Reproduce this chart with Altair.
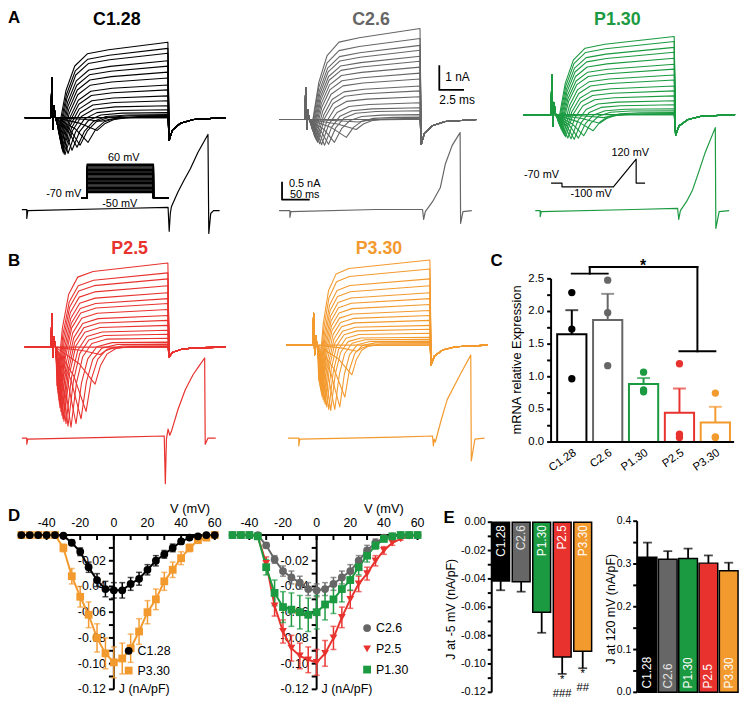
import altair as alt
import pandas as pd

FONT = "Liberation Sans"
BLACK = "#000000"
GREY = "#666666"
GREEN = "#1b9a41"
RED = "#e8322e"
ORANGE = "#f39a2f"

CATS = ["C1.28", "C2.6", "P1.30", "P2.5", "P3.30"]
CAT_COLORS = [BLACK, GREY, GREEN, RED, ORANGE]
E_LABEL_COLORS = ["#ffffff", "#e4e4e4", "#ffffff", "#ffffff", "#ffffff"]

# ---------------- A / B : current families (nA), one value per sweep ----------------
C128_PEAK = [0, -0.15, -0.52, -1.0, -1.12, -1.2, -1.32, -1.45, -1.5, -1.46, -1.4, -1.33, -1.25, -1.15, -1.05, -0.95, -0.85, -0.75, -0.65, -0.55]
C128_TPK = [6.0, 7.6, 7.2, 6.3, 5.5, 5.2, 4.7, 4.3, 4.0, 3.9, 3.8, 3.75, 3.7, 3.65, 3.6, 3.55, 3.5, 3.45, 3.4, 3.35]
C128_SS = [0, 0, 0.02, 0.05, 0.08, 0.12, 0.2, 0.32, 0.48, 0.68, 0.88, 1.12, 1.32, 1.6, 1.84, 2.08, 2.3, 2.6, 2.8, 3.05]

C26_PEAK = [0, -0.1, -0.4, -0.72, -0.92, -1.0, -1.04, -1.02, -0.98, -0.92, -0.85, -0.78, -0.7, -0.62, -0.55, -0.5, -0.45, -0.4, -0.35, -0.3]
C26_TPK = [6.0, 8.0, 7.8, 6.8, 5.6, 5.0, 4.6, 4.3, 4.1, 3.9, 3.8, 3.7, 3.6, 3.55, 3.5, 3.45, 3.4, 3.35, 3.3, 3.3]
C26_SS = [0, 0, 0.05, 0.1, 0.2, 0.36, 0.48, 0.68, 0.92, 1.16, 1.36, 1.64, 1.88, 2.12, 2.36, 2.56, 2.8, 3.0, 3.28, 3.68]

P130_PEAK = [0, -0.12, -0.35, -0.65, -0.85, -0.95, -1.0, -0.98, -0.95, -0.9, -0.85, -0.78, -0.7, -0.62, -0.55, -0.5, -0.45, -0.4, -0.35, -0.3]
P130_TPK = [6.0, 7.6, 7.2, 6.6, 5.7, 5.2, 4.8, 4.5, 4.2, 4.0, 3.9, 3.8, 3.7, 3.6, 3.55, 3.5, 3.45, 3.4, 3.35, 3.3]
P130_SS = [0, 0, 0.04, 0.08, 0.16, 0.24, 0.4, 0.56, 0.76, 0.96, 1.16, 1.4, 1.6, 1.84, 2.04, 2.28, 2.52, 2.72, 2.96, 3.16]

P25_PEAK = [0, -0.3, -1.5, -2.6, -2.9, -3.1, -3.24, -3.2, -3.1, -3.0, -2.9, -2.75, -2.6, -2.45, -2.3, -2.15, -2.0, -1.85, -1.7, -1.55]
P25_TPK = [6.0, 7.5, 7.0, 6.1, 5.6, 5.1, 4.6, 4.3, 4.1, 3.9, 3.8, 3.7, 3.6, 3.5, 3.45, 3.4, 3.35, 3.3, 3.25, 3.2]
P25_SS = [0, 0, 0.02, 0.05, 0.12, 0.2, 0.36, 0.52, 0.68, 0.88, 1.08, 1.28, 1.52, 1.76, 1.96, 2.2, 2.48, 2.76, 3.0, 3.4]

P330_PEAK = [0, -0.25, -1.2, -2.1, -2.5, -2.6, -2.64, -2.6, -2.5, -2.4, -2.3, -2.2, -2.1, -2.0, -1.9, -1.8, -1.7, -1.6, -1.5, -1.4]
P330_TPK = [6.0, 7.0, 6.5, 5.8, 5.3, 4.8, 4.4, 4.2, 4.0, 3.85, 3.75, 3.65, 3.55, 3.5, 3.45, 3.4, 3.35, 3.3, 3.25, 3.2]
P330_SS = [0, 0, 0.05, 0.1, 0.16, 0.24, 0.32, 0.48, 0.64, 0.8, 1.0, 1.2, 1.4, 1.64, 1.88, 2.12, 2.4, 2.68, 3.08, 3.44]

# artifact height, tail minimum (nA) and relative rise time per family
FAMILY_ART = [1.6, 1.3, 1.6, 1.36, 1.3]
FAMILY_TAIL = [-0.92, -1.0, -0.84, -0.4, -0.8]
FAMILY_RISE = [1.25, 1.2, 1.1, 0.9, 0.75]

# sweep shape (ms / fractions)
T_ON, T_OFF, T_END = 3.05, 14.3, 20.0
ART_T = [2.6, 2.7, 2.8, 2.9]
ART_SHAPE = [0.0, 1.0, -0.3, 0.3]
RISE_DT = [0.6, 1.3, 2.3, 4.0]
RISE_FRAC = [0.5, 0.8, 0.95, 1.0]
PLATEAU_EARLY = 0.9
TAIL_DT = [0.08, 0.4, 1.2, 2.5]
TAIL_SHAPE = [1.0, 0.55, 0.25, 0.08]

# ---------------- ramp responses (ms, nA) ----------------
C128_AP_T = [0, 8.9, 8.9, 10.7, 175, 264, 266, 268, 270, 282, 293, 304, 318, 336, 337.5, 341, 346, 357]
C128_AP_V = [0, 0, -0.25, -0.03, 0.03, 0.06, -0.61, -0.11, 0.08, 0.5, 0.83, 1.14, 1.61, 2.11, -0.67, -0.11, -0.03, -0.03]
C26_AP_T = [0, 19.6, 19.6, 21.4, 175, 259, 261, 264, 277, 291, 300, 312.5, 326.8, 327.7, 332, 348]
C26_AP_V = [0, 0, -0.19, -0.03, 0.03, 0.03, -0.25, -0.03, 0.25, 0.64, 1.3, 1.83, 2.19, -0.36, -0.03, 0]
P130_AP_T = [0, 8.9, 8.9, 10.7, 177, 257, 259, 262, 273, 284, 295, 307, 325, 326, 332, 350]
P130_AP_V = [0, 0, -0.17, -0.03, 0.03, 0.06, -0.25, 0, 0.25, 0.58, 1.08, 1.64, 2.33, -0.5, -0.03, 0]
P25_AP_T = [0, 8.9, 8.9, 10.7, 175, 257, 259, 261, 264, 267, 270, 282, 295, 309, 320, 330, 331, 336, 350]
P25_AP_V = [0, 0, -0.17, -0.03, 0.03, 0.06, -1.28, -0.03, 0.25, 0.08, 0.19, 0.81, 1.36, 1.78, 2.03, 2.25, -0.17, 0, 0]
P330_AP_T = [0, 19.6, 19.6, 21.4, 195, 261, 262.5, 264, 266, 277, 287.5, 310.7, 330, 331, 337.5, 355]
P330_AP_V = [0, 0, -0.22, -0.03, 0.03, 0.06, -0.22, -0.03, -0.11, 0.53, 1.08, 1.78, 2.33, -0.64, -0.03, 0]

# ---------------- voltage protocols (mV) ----------------
STEP_LEVELS = [-50, -45, -40, -35, -30, -25, -20, -15, -10, -5, 0, 5, 10, 15, 20, 25, 30, 35, 40, 45, 50, 55, 60]
HOLD = -70
STEP_T = [0, 6, 6, 73, 73, 88]
RAMP_T = [0, 11, 11, 63, 86, 86, 95]
RAMP_V = [-70, -70, -100, -100, 120, -70, -70]

# ---------------- C : mRNA relative expression ----------------
MRNA_MEAN = [1.65, 1.87, 0.89, 0.45, 0.30]
MRNA_ERR = [2.02, 2.27, 0.98, 0.82, 0.54]
MRNA_PTS = {"C1.28": [2.29, 1.73, 0.97], "C2.6": [2.48, 1.98, 1.17], "P1.30": [1.07, 0.80, 0.77],
            "P2.5": [1.20, 0.12, 0.07], "P3.30": [0.75, 0.08, 0.07]}
BRACKET_X1 = [0, 0.5, 0.5, 3.5, 3]
BRACKET_X2 = [1, 0.5, 3.5, 3.5, 4]
BRACKET_Y1 = [2.58, 2.58, 2.68, 2.68, 1.39]
BRACKET_Y2 = [2.58, 2.68, 2.68, 1.39, 1.39]
C_TICKS = [0, 0.25, 0.5, 0.75, 1.0, 1.25, 1.5, 1.75, 2.0, 2.25, 2.5]
C_LABELS = [0, 0.5, 1.0, 1.5, 2.0, 2.5]

# ---------------- D : I-V curves (nA/pF) ----------------
V_D1 = [-55, -50, -45, -40, -35, -30, -25, -20, -15, -10, -5, 0, 5, 10, 15, 20, 25, 30, 35, 40, 45, 50, 55, 60]
J_C128 = [0, 0, 0, 0, 0, -0.0005, -0.006, -0.013, -0.025, -0.035, -0.042, -0.043, -0.043, -0.038, -0.034, -0.027, -0.020, -0.015, -0.010, -0.005, -0.002, -0.001, 0, 0]
S_C128 = [0, 0, 0, 0, 0, 0.001, 0.002, 0.003, 0.004, 0.005, 0.006, 0.006, 0.006, 0.005, 0.005, 0.004, 0.004, 0.003, 0.003, 0.002, 0.001, 0.001, 0, 0]
J_P330 = [0, 0, 0, 0, 0, -0.010, -0.032, -0.048, -0.062, -0.080, -0.092, -0.099, -0.096, -0.088, -0.075, -0.060, -0.050, -0.036, -0.027, -0.018, -0.010, -0.004, -0.002, 0]
S_P330 = [0, 0, 0, 0, 0, 0.003, 0.006, 0.008, 0.010, 0.011, 0.012, 0.012, 0.012, 0.011, 0.010, 0.009, 0.008, 0.007, 0.006, 0.005, 0.003, 0.002, 0.001, 0]
V_D2 = [-50, -45, -40, -35, -30, -25, -20, -15, -10, -5, 0, 5, 10, 15, 20, 25, 30, 35, 40, 45, 50, 55, 60]
J_C26 = [0, 0, 0, 0, -0.008, -0.019, -0.028, -0.033, -0.037, -0.042, -0.043, -0.042, -0.038, -0.033, -0.028, -0.020, -0.012, -0.006, -0.002, -0.001, 0, 0, 0]
S_C26 = [0, 0, 0, 0, 0.002, 0.003, 0.004, 0.005, 0.005, 0.005, 0.005, 0.005, 0.005, 0.005, 0.005, 0.004, 0.004, 0.003, 0.002, 0.001, 0, 0, 0]
J_P25 = [0, 0, 0, -0.001, -0.022, -0.055, -0.075, -0.088, -0.094, -0.097, -0.099, -0.092, -0.080, -0.064, -0.050, -0.038, -0.030, -0.020, -0.012, -0.006, -0.003, -0.001, 0]
S_P25 = [0, 0, 0, 0.001, 0.005, 0.008, 0.009, 0.010, 0.010, 0.010, 0.010, 0.010, 0.009, 0.008, 0.007, 0.006, 0.005, 0.004, 0.003, 0.002, 0.001, 0.001, 0]
J_P130 = [0, 0, 0, -0.001, -0.025, -0.045, -0.056, -0.058, -0.060, -0.062, -0.060, -0.054, -0.050, -0.042, -0.035, -0.025, -0.016, -0.008, -0.003, -0.001, 0, 0, 0]
S_P130 = [0, 0, 0, 0.001, 0.006, 0.010, 0.012, 0.013, 0.013, 0.013, 0.013, 0.012, 0.011, 0.010, 0.008, 0.006, 0.005, 0.003, 0.002, 0.001, 0, 0, 0]
D_XTICKS = [-40, -30, -20, -10, 0, 10, 20, 30, 40, 50, 60]
D_XLABELS = [-40, -20, 0, 20, 40, 60]
D_YTICKS = [-0.01, -0.02, -0.03, -0.04, -0.05, -0.06, -0.07, -0.08, -0.09, -0.10, -0.11, -0.12]
D_YLABELS = [-0.02, -0.04, -0.06, -0.08, -0.10, -0.12]

# ---------------- E : current density bars (nA/pF) ----------------
E1_MEAN = [-0.0415, -0.042, -0.0635, -0.095, -0.091]
E1_ERR = [-0.048, -0.049, -0.078, -0.107, -0.103]
E1_SIGNIF = ["", "", "", "*\n###", "*\n##"]
E2_MEAN = [0.316, 0.311, 0.313, 0.302, 0.284]
E2_ERR = [0.350, 0.330, 0.336, 0.320, 0.303]
E1_TICKS = [0, -0.01, -0.02, -0.03, -0.04, -0.05, -0.06, -0.07, -0.08, -0.09, -0.10, -0.11, -0.12]
E1_LABELS = [0, -0.02, -0.04, -0.06, -0.08, -0.10, -0.12]
E2_TICKS = [0, 0.05, 0.1, 0.15, 0.2, 0.25, 0.3, 0.35, 0.4]
E2_LABELS = [0, 0.1, 0.2, 0.3, 0.4]


# ======================= helpers =======================
def lin(domain, rng):
    return alt.Scale(domain=domain, range=rng, nice=False, zero=False)


def fmt(v, nd):
    s = f"{abs(v):.{nd}f}"
    return ("-" + s) if v < -1e-9 else s


def build_family(peak, tpk, ss, art, tail, rise):
    rows = []
    for k, (pk, tp, s) in enumerate(zip(peak, tpk, ss)):
        pts = [(0.0, 0.0)] + [(t, art * a) for t, a in zip(ART_T, ART_SHAPE)] + [(T_ON, 0.0)]
        bt, bv = T_ON, 0.0
        if pk < 0:
            pts += [(T_ON + 0.6 * (tp - T_ON), 0.45 * pk), (tp, pk)]
            bt, bv = tp, pk
        for d, f in zip(RISE_DT, RISE_FRAC):
            pts.append((bt + d * rise, bv + (PLATEAU_EARLY * s - bv) * f))
        pts.append((T_OFF - 0.05, s))
        pts += [(T_OFF + d, tail * f) for d, f in zip(TAIL_DT, TAIL_SHAPE)]
        pts.append((T_END, 0.0))
        rows += [{"sweep": k, "i": i, "t": t, "v": v} for i, (t, v) in enumerate(pts)]
    return pd.DataFrame(rows)


def path_df(ts, vs, sweep=0):
    return pd.DataFrame({"t": ts, "v": vs, "i": list(range(len(ts))), "sweep": [sweep] * len(ts)})


def line_layer(df, xs, ys, color, width=1.1):
    return alt.Chart(df).mark_line(color=color, strokeWidth=width, strokeJoin="round").encode(
        x=alt.X("t:Q", scale=xs, axis=None),
        y=alt.Y("v:Q", scale=ys, axis=None),
        detail="sweep:N",
        order="i:Q",
    )


def txt(s, x, y, size=12, color=BLACK, weight="normal", align="center", baseline="alphabetic", angle=None):
    kw = dict(font=FONT, fontSize=size, color=color, fontWeight=weight, align=align, baseline=baseline)
    if angle is not None:
        kw["angle"] = angle
    return alt.Chart(pd.DataFrame({"s": [s]})).mark_text(**kw).encode(
        x=alt.value(x), y=alt.value(y), text="s:N")


def y_axis(ys, x_px, dom, ticks, labels, nd, tsize=4, pad=2, fsize=11, width=2):
    """manual left y-axis drawn through the panel's y scale"""
    return [
        alt.Chart(pd.DataFrame({"a": [dom[0]], "b": [dom[1]]})).mark_rule(color=BLACK, strokeWidth=width).encode(
            x=alt.value(x_px), y=alt.Y("a:Q", scale=ys, axis=None), y2="b:Q"),
        alt.Chart(pd.DataFrame({"val": ticks})).mark_rule(color=BLACK, strokeWidth=width).encode(
            y=alt.Y("val:Q", scale=ys, axis=None), x=alt.value(x_px - tsize), x2=alt.value(x_px)),
        alt.Chart(pd.DataFrame({"val": labels, "lab": [fmt(v, nd) for v in labels]})).mark_text(
            font=FONT, fontSize=fsize, color=BLACK, align="right", baseline="middle").encode(
            y=alt.Y("val:Q", scale=ys, axis=None), x=alt.value(x_px - tsize - pad), text="lab:N"),
    ]


layers = []

# ======================= A / B traces =======================
families = [
    (C128_PEAK, C128_TPK, C128_SS, BLACK, (17, 220), 107),
    (C26_PEAK, C26_TPK, C26_SS, GREY, (274, 474), 109),
    (P130_PEAK, P130_TPK, P130_SS, GREEN, (521, 735), 104),
    (P25_PEAK, P25_TPK, P25_SS, RED, (17, 220), 339),
    (P330_PEAK, P330_TPK, P330_SS, ORANGE, (281.5, 485), 337),
]
for idx, (pk, tp, ss, col, xr, base) in enumerate(families):
    df = build_family(pk, tp, ss, FAMILY_ART[idx], FAMILY_TAIL[idx], FAMILY_RISE[idx])
    layers.append(line_layer(df, lin([0, T_END], list(xr)), lin([-4, 4], [base + 100, base - 100]), col, 1.1))

aps = [
    (C128_AP_T, C128_AP_V, BLACK, (14, 213.9), 200),
    (C26_AP_T, C26_AP_V, GREY, (274, 468.9), 201),
    (P130_AP_T, P130_AP_V, GREEN, (533, 729), 201),
    (P25_AP_T, P25_AP_V, RED, (14, 210), 431),
    (P330_AP_T, P330_AP_V, ORANGE, (283, 481.8), 431),
]
ap_scales = []
for ts, vs, col, xr, base in aps:
    xs = lin([0, ts[-1]], list(xr))
    ys = lin([-2, 3], [base + 72, base - 108])
    ap_scales.append((xs, ys))
    layers.append(line_layer(path_df(ts, vs), xs, ys, col, 1.2))

# step protocol (C1.28)
prot_rows = []
for k, L in enumerate(STEP_LEVELS):
    pattern = [HOLD, HOLD, L, L, HOLD, HOLD]
    prot_rows.append(path_df(STEP_T, pattern, k))
layers.append(line_layer(pd.concat(prot_rows), lin([0, 88], [74, 162]), lin([-70, 60], [188, 154.2]), BLACK, 1.4))
# ramp protocol (P1.30)
layers.append(line_layer(path_df(RAMP_T, RAMP_V), lin([0, 95], [549, 644]), lin([-100, 120], [177, 149]), BLACK, 1.2))

# scale bars (C2.6 panel)
layers.append(line_layer(path_df([16.2, 16.2, 18.7], [2.2, 1.2, 1.2]), lin([0, T_END], [274, 474]),
                         lin([-4, 4], [209, 9]), BLACK, 1.8))
layers.append(line_layer(path_df([5.4, 5.4, 55.4], [0.81, 0.31, 0.31]), ap_scales[1][0], ap_scales[1][1], BLACK, 1.8))

# texts of A/B
layers += [
    txt("A", 0, 11, 17, weight="bold", align="left"),
    txt("B", 0, 257, 17, weight="bold", align="left"),
    txt("C", 494, 257, 17, weight="bold"),
    txt("D", 0, 515, 17, weight="bold", align="left"),
    txt("E", 446, 517, 17, weight="bold"),
    txt("C1.28", 110, 13, 18, BLACK, "bold"),
    txt("C2.6", 367, 13, 18, GREY, "bold"),
    txt("P1.30", 616, 13, 18, GREEN, "bold"),
    txt("P2.5", 123, 245, 18, RED, "bold"),
    txt("P3.30", 375, 245, 18, ORANGE, "bold"),
    txt("60 mV", 117, 151, 11),
    txt("-70 mV", 74, 187, 11, align="right"),
    txt("-50 mV", 113, 197, 11),
    txt("-70 mV", 557, 168, 11, align="right"),
    txt("120 mV", 629, 146, 11),
    txt("-100 mV", 589.5, 187, 11),
    txt("1 nA", 442, 70, 12, align="left"),
    txt("2.5 ms", 454, 93, 12),
    txt("0.5 nA", 284, 177, 11, align="left"),
    txt("50 ms", 285, 188, 11, align="left"),
]

# ======================= C : mRNA =======================
c_x = alt.Scale(domain=CATS, range=[549, 736], paddingInner=0.185, paddingOuter=0.17)
c_y = lin([0, 2.5], [435, 270])
c_col = alt.Scale(domain=CATS, range=CAT_COLORS)
df_c = pd.DataFrame({"cat": CATS, "mean": MRNA_MEAN, "err": MRNA_ERR})
df_cp = pd.DataFrame([{"cat": c, "val": v} for c in CATS for v in MRNA_PTS[c]])
c_parts = y_axis(c_y, 549, [0, 2.5], C_TICKS, C_LABELS, 1, tsize=4, pad=3, fsize=11.5)
c_parts += [
    alt.Chart(df_c).mark_bar(fill="white", strokeWidth=2).encode(
        x=alt.X("cat:N", scale=c_x, axis=None), y=alt.Y("mean:Q", scale=c_y, axis=None),
        stroke=alt.Stroke("cat:N", scale=c_col, legend=None)),
    alt.Chart(df_c).mark_rule(strokeWidth=2).encode(
        x=alt.X("cat:N", scale=c_x, axis=None), y=alt.Y("mean:Q", scale=c_y, axis=None), y2="err:Q",
        color=alt.Color("cat:N", scale=c_col, legend=None)),
    alt.Chart(df_c).mark_tick(thickness=2, size=13, orient="horizontal").encode(
        x=alt.X("cat:N", scale=c_x, axis=None), y=alt.Y("err:Q", scale=c_y, axis=None),
        color=alt.Color("cat:N", scale=c_col, legend=None)),
    alt.Chart(df_cp).mark_circle(size=55, opacity=1).encode(
        x=alt.X("cat:N", scale=c_x, axis=None), y=alt.Y("val:Q", scale=c_y, axis=None),
        color=alt.Color("cat:N", scale=c_col, legend=None)),
    # x axis line and rotated category labels
    alt.Chart(pd.DataFrame({"a": [0]})).mark_rule(color=BLACK, strokeWidth=2).encode(
        x=alt.value(548), x2=alt.value(734), y=alt.value(435)),
    alt.Chart(pd.DataFrame({"cat": CATS})).mark_text(font=FONT, fontSize=11.5, color=BLACK, angle=325,
                                                     align="right", baseline="top").encode(
        x=alt.X("cat:N", scale=c_x, axis=None), y=alt.value(440), text="cat:N"),
]
layers.append(alt.layer(*c_parts))

df_br = pd.DataFrame({"x1": BRACKET_X1, "x2": BRACKET_X2, "y1": BRACKET_Y1, "y2": BRACKET_Y2})
layers.append(alt.Chart(df_br).mark_rule(color=BLACK, strokeWidth=2, strokeCap="square").encode(
    x=alt.X("x1:Q", scale=lin([0, 4], [569.95, 715.05]), axis=None), x2="x2:Q",
    y=alt.Y("y1:Q", scale=c_y, axis=None), y2="y2:Q"))
layers.append(txt("*", 642, 262, 16, weight="bold"))
layers.append(txt("mRNA relative Expression", 515, 352, 13, angle=270, baseline="middle"))


# ======================= D : I-V =======================
def iv_panel(series, xr, y_axis_px):
    xs = lin([-45, 62], list(xr))
    ys = lin([-0.12, 0], [685, 529])
    parts = y_axis(ys, y_axis_px, [-0.12, 0], D_YTICKS, D_YLABELS, 2, tsize=5, pad=3, fsize=12.5)
    parts += [
        alt.Chart(pd.DataFrame({"a": [-45], "b": [62]})).mark_rule(color=BLACK, strokeWidth=2).encode(
            x=alt.X("a:Q", scale=xs, axis=None), x2="b:Q", y=alt.value(529)),
        alt.Chart(pd.DataFrame({"val": D_XTICKS})).mark_rule(color=BLACK, strokeWidth=2).encode(
            x=alt.X("val:Q", scale=xs, axis=None), y=alt.value(529), y2=alt.value(534)),
        alt.Chart(pd.DataFrame({"val": D_XLABELS, "lab": [fmt(v, 0) for v in D_XLABELS]})).mark_text(
            font=FONT, fontSize=12.5, color=BLACK, baseline="alphabetic").encode(
            x=alt.X("val:Q", scale=xs, axis=None), y=alt.value(521), text="lab:N"),
    ]
    pts = []
    for V, J, S, col, shape in series:
        df = pd.DataFrame({"V": V, "J": J, "lo": [j - s for j, s in zip(J, S)], "hi": [j + s for j, s in zip(J, S)]})
        X = alt.X("V:Q", scale=xs, axis=None)
        parts.append(alt.Chart(df).mark_line(color=col, strokeWidth=2).encode(
            x=X, y=alt.Y("J:Q", scale=ys, axis=None)))
        parts.append(alt.Chart(df).mark_rule(color=col, strokeWidth=1.5).encode(
            x=X, y=alt.Y("lo:Q", scale=ys, axis=None), y2="hi:Q"))
        for f in ["lo", "hi"]:
            parts.append(alt.Chart(df).mark_tick(color=col, orient="horizontal", size=6, thickness=1.5).encode(
                x=X, y=alt.Y(f + ":Q", scale=ys, axis=None)))
        pts.append(alt.Chart(df).mark_point(shape=shape, filled=True, size=62, color=col, opacity=1).encode(
            x=X, y=alt.Y("J:Q", scale=ys, axis=None)))
    return alt.layer(*(parts + pts))


layers.append(iv_panel([(V_D1, J_P330, S_P330, ORANGE, "square"), (V_D1, J_C128, S_C128, BLACK, "circle")],
                       (30.5, 212.4), 107))
layers.append(iv_panel([(V_D2, J_P25, S_P25, RED, "triangle-down"), (V_D2, J_C26, S_C26, GREY, "circle"),
                        (V_D2, J_P130, S_P130, GREEN, "square")], (235.5, 417.4), 312))


def legend_sym(shape, col, x, y):
    return alt.Chart(pd.DataFrame({"s": [shape]})).mark_point(shape=shape, filled=True, size=62, color=col, opacity=1).encode(
        x=alt.value(x), y=alt.value(y))


layers += [
    txt("V (mV)", 184, 507, 13),
    txt("V (mV)", 380, 507, 13),
    txt("J (nA/pF)", 112, 689, 12.5, align="left"),
    txt("J (nA/pF)", 317, 689, 12.5, align="left"),
    legend_sym("circle", BLACK, 122, 646), txt("C1.28", 131, 646, 12.5, align="left", baseline="middle"),
    legend_sym("square", ORANGE, 122, 666), txt("P3.30", 131, 666, 12.5, align="left", baseline="middle"),
    legend_sym("circle", GREY, 363, 623), txt("C2.6", 372, 623, 12.5, align="left", baseline="middle"),
    legend_sym("triangle-down", RED, 363, 644), txt("P2.5", 372, 644, 12.5, align="left", baseline="middle"),
    legend_sym("square", GREEN, 363, 665), txt("P1.30", 372, 665, 12.5, align="left", baseline="middle"),
]

# ======================= E : bars =======================
fill_sc = alt.Scale(domain=CATS, range=CAT_COLORS)
lab_sc = alt.Scale(domain=CATS, range=E_LABEL_COLORS)


def e_panel(mean, err, xr, pad, ydom, yr, axis_px, ticks, labels, label_align, label_dx, signif=None):
    xs = alt.Scale(domain=CATS, range=list(xr), paddingInner=pad, paddingOuter=0)
    ys = lin(ydom, yr)
    df = pd.DataFrame({"cat": CATS, "mean": mean, "err": err, "zero": [0] * 5})
    X = alt.X("cat:N", scale=xs, axis=None)
    parts = y_axis(ys, axis_px, ydom, ticks, labels, 2 if ydom[0] < 0 else 1, tsize=4, pad=2,
                   fsize=11 if ydom[0] < 0 else 10.5)
    parts += [
        alt.Chart(df).mark_bar(stroke=BLACK, strokeWidth=1.5).encode(
            x=X, y=alt.Y("mean:Q", scale=ys, axis=None), fill=alt.Fill("cat:N", scale=fill_sc, legend=None)),
        alt.Chart(df).mark_rule(color=BLACK, strokeWidth=1.8).encode(
            x=X, y=alt.Y("mean:Q", scale=ys, axis=None), y2="err:Q"),
        alt.Chart(df).mark_tick(color=BLACK, orient="horizontal", size=9, thickness=1.8).encode(
            x=X, y=alt.Y("err:Q", scale=ys, axis=None)),
        alt.Chart(df).mark_text(font=FONT, fontSize=12, angle=270, align=label_align, baseline="middle",
                                dx=label_dx).encode(
            x=X, y=alt.Y("zero:Q", scale=ys, axis=None), text="cat:N",
            color=alt.Color("cat:N", scale=lab_sc, legend=None)),
    ]
    if signif:
        dfm = pd.DataFrame({"cat": CATS, "err": err, "sig": signif})
        parts.append(alt.Chart(dfm).mark_text(font=FONT, fontSize=11.5, color=BLACK, baseline="top", dy=0,
                                               lineBreak="\n", lineHeight=14).encode(
            x=X, y=alt.Y("err:Q", scale=ys, axis=None), text="sig:N"))
    return alt.layer(*parts)


layers.append(e_panel(E1_MEAN, E1_ERR, (489, 590), 0.13, [-0.12, 0], [688, 516], 489, E1_TICKS, E1_LABELS,
                      "right", -3, E1_SIGNIF))
layers.append(e_panel(E2_MEAN, E2_ERR, (637, 738), 0.08, [0, 0.4], [688, 515], 636, E2_TICKS, E2_LABELS,
                      "left", 4))
layers += [
    txt("J at -5 mV (nA/pF)", 448, 604, 12.5, angle=270, baseline="middle"),
    txt("J at 120 mV (nA/pF)", 610, 604, 12.5, angle=270, baseline="middle"),
]

chart = alt.layer(*layers).resolve_scale(
    x="independent", y="independent", color="independent", fill="independent", stroke="independent"
).properties(
    width=742, height=696, padding=0, autosize=alt.AutoSizeParams(type="none"), background="white"
).configure_view(stroke=None)

chart.save("out.html", embed_options={"renderer": "svg", "actions": False})
